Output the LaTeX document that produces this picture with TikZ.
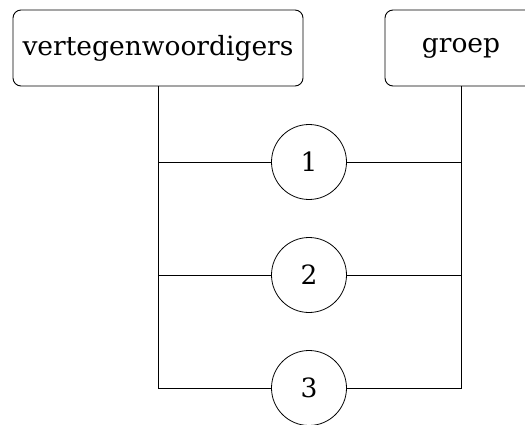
\documentclass[tikz,border=0pt]{standalone}
\usepackage{fontspec}
\setmainfont{DejaVu Serif}
\begin{document}
\begin{tikzpicture}[x=1pt,y=1pt,
  party/.style={draw, rounded corners=8pt, line width=0.9pt, minimum height=76pt,
    inner sep=0pt, font=\fontsize{26.5}{30}\selectfont},
  seat/.style={draw, circle, minimum size=75pt, inner sep=0pt, line width=0.8pt,
    font=\fontsize{26.5}{30}\selectfont},
  wire/.style={line width=0.9pt}]
\useasboundingbox (0,0) rectangle (525,424);
\node[party, minimum width=290pt] (rep) at (158,376) {vertegenwoordigers};
\node[party, minimum width=152pt] (grp) at (461,376) {groep};
\node[seat] (s1) at (309,262) {1};
\node[seat] (s2) at (309,149) {2};
\node[seat] (s3) at (309,36) {3};
% left rail with its three branches
\draw[wire] (rep.south) -- (rep.south |- s3) -- (s3.west);
\draw[wire] (rep.south |- s1) -- (s1.west);
\draw[wire] (rep.south |- s2) -- (s2.west);
% right rail with its three branches
\draw[wire] (grp.south) -- (grp.south |- s3) -- (s3.east);
\draw[wire] (grp.south |- s1) -- (s1.east);
\draw[wire] (grp.south |- s2) -- (s2.east);
\end{tikzpicture}
\end{document}
